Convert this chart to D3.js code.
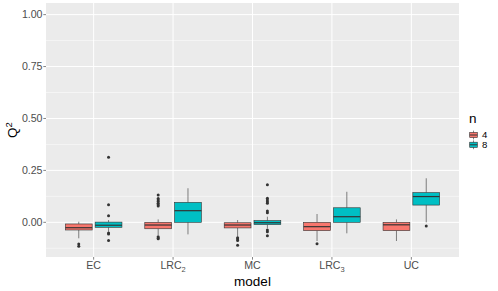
<!DOCTYPE html>
<html>
<head>
<meta charset="utf-8">
<script src="https://cdn.jsdelivr.net/npm/d3@7"></script>
<style>
body { margin: 0; background: #fff; }
text { font-family: "Liberation Sans", Arial, sans-serif; }
</style>
</head>
<body>
<div id="viz"></div>
<script>
var width = 498
var height = 291

var models = ["EC", "LRC", "MC", "LRC", "UC"];
var modelSubs = ["", "2", "", "3", ""];
var groups = ["4", "8"];
var colors = ["#F8766D", "#00BFC4"];
var yTicks = [0, 0.25, 0.5, 0.75, 1];
var yMinor = [-0.125, 0.125, 0.375, 0.625, 0.875];

// box statistics per group, one entry per model
var q1_4 = [-0.037, -0.031, -0.027, -0.040, -0.040];
var med4 = [-0.026, -0.013, -0.013, -0.021, -0.012];
var q3_4 = [-0.008, 0.000, -0.002, 0.000, 0.000];
var lo4 = [-0.077, -0.061, -0.069, -0.090, -0.090];
var hi4 = [0.003, 0.014, 0.011, 0.040, 0.014];
var out4 = [[-0.104, -0.115], [0.131, 0.115, 0.108, 0.100, 0.092, 0.085, 0.078, -0.069, -0.075, -0.079],
  [-0.074, -0.080, -0.088, -0.111], [-0.103], []];

var q1_8 = [-0.024, 0.000, -0.011, 0.000, 0.083];
var med8 = [-0.014, 0.056, -0.002, 0.027, 0.124];
var q3_8 = [0.001, 0.096, 0.008, 0.070, 0.143];
var lo8 = [-0.045, -0.058, -0.029, -0.053, 0.000];
var hi8 = [0.011, 0.164, 0.027, 0.147, 0.212];
var out8 = [[0.313, 0.085, 0.032, -0.051, -0.056, -0.088], [],
  [0.181, 0.116, 0.107, 0.099, 0.092, 0.054, 0.046, -0.037, -0.045, -0.065], [], [-0.018]];

var stats = [
  {q1: q1_4, med: med4, q3: q3_4, lo: lo4, hi: hi4, out: out4},
  {q1: q1_8, med: med8, q3: q3_8, lo: lo8, hi: hi8, out: out8}
];

var pLeft = 46, pRight = 459, pTop = 3, pBottom = 257;

var svg = d3.select("#viz").append("svg")
	.attr("width", width)
	.attr("height", height);

// discrete scale with ggplot's 0.6 expansion on each side
var x = d3.scalePoint()
	.domain(d3.range(models.length))
	.range([pLeft, pRight])
	.padding(0.6);
var unit = x.step();

var y = d3.scaleLinear()
	.domain([-0.167, 1.056])
	.range([pBottom, pTop]);

svg.append("rect")
	.attr("x", pLeft).attr("y", pTop)
	.attr("width", pRight - pLeft).attr("height", pBottom - pTop)
	.attr("fill", "#EBEBEB");

svg.selectAll(".minor").data(yMinor).enter().append("line")
	.attr("x1", pLeft).attr("x2", pRight)
	.attr("y1", function(d){ return y(d); }).attr("y2", function(d){ return y(d); })
	.attr("stroke", "#fff").attr("stroke-width", 0.5);

svg.selectAll(".major").data(yTicks).enter().append("line")
	.attr("x1", pLeft).attr("x2", pRight)
	.attr("y1", function(d){ return y(d); }).attr("y2", function(d){ return y(d); })
	.attr("stroke", "#fff").attr("stroke-width", 1);

svg.selectAll(".vmajor").data(models).enter().append("line")
	.attr("x1", function(d, i){ return x(i); }).attr("x2", function(d, i){ return x(i); })
	.attr("y1", pTop).attr("y2", pBottom)
	.attr("stroke", "#fff").attr("stroke-width", 1);

// boxes
var boxW = unit * 0.375 * 0.9;
stats.forEach(function(s, g){
	var off = (g === 0 ? -1 : 1) * unit * 0.1875;
	models.forEach(function(m, i){
		var c = x(i) + off;
		var grp = svg.append("g");
		grp.append("line")
			.attr("x1", c).attr("x2", c)
			.attr("y1", y(s.hi[i])).attr("y2", y(s.q3[i]))
			.attr("stroke", "#333").attr("stroke-width", 0.6);
		grp.append("line")
			.attr("x1", c).attr("x2", c)
			.attr("y1", y(s.q1[i])).attr("y2", y(s.lo[i]))
			.attr("stroke", "#333").attr("stroke-width", 0.6);
		grp.append("rect")
			.attr("x", c - boxW / 2).attr("width", boxW)
			.attr("y", y(s.q3[i])).attr("height", y(s.q1[i]) - y(s.q3[i]))
			.attr("fill", colors[g]).attr("stroke", "#333").attr("stroke-width", 0.6);
		grp.append("line")
			.attr("x1", c - boxW / 2).attr("x2", c + boxW / 2)
			.attr("y1", y(s.med[i])).attr("y2", y(s.med[i]))
			.attr("stroke", "#333").attr("stroke-width", 1.2);
		grp.selectAll("circle").data(s.out[i]).enter().append("circle")
			.attr("cx", c).attr("cy", function(d){ return y(d); })
			.attr("r", 1.5).attr("fill", "#333");
	});
});

// y axis
svg.selectAll(".ytick").data(yTicks).enter().append("line")
	.attr("x1", pLeft - 2.7).attr("x2", pLeft)
	.attr("y1", function(d){ return y(d); }).attr("y2", function(d){ return y(d); })
	.attr("stroke", "#333").attr("stroke-width", 0.6);
svg.selectAll(".ylab").data(yTicks).enter().append("text")
	.attr("x", pLeft - 3.5).attr("y", function(d){ return y(d); })
	.attr("dy", "0.36em").attr("text-anchor", "end")
	.attr("font-size", 10.6).attr("fill", "#4D4D4D")
	.text(function(d){ return d3.format(".2f")(d); });

// x axis
svg.selectAll(".xtick").data(models).enter().append("line")
	.attr("x1", function(d, i){ return x(i); }).attr("x2", function(d, i){ return x(i); })
	.attr("y1", pBottom).attr("y2", pBottom + 2.7)
	.attr("stroke", "#333").attr("stroke-width", 0.6);
var xl = svg.selectAll(".xlab").data(models).enter().append("text")
	.attr("x", function(d, i){ return x(i); }).attr("y", 269)
	.attr("text-anchor", "middle")
	.attr("font-size", 10.6).attr("fill", "#4D4D4D");
xl.append("tspan").text(function(d){ return d; });
xl.append("tspan")
	.attr("font-size", 7.5).attr("dy", 2.5)
	.text(function(d, i){ return modelSubs[i]; });

svg.append("text")
	.attr("x", (pLeft + pRight) / 2).attr("y", 286)
	.attr("text-anchor", "middle").attr("font-size", 13.5).attr("fill", "#000")
	.text("model");

var yt = svg.append("text")
	.attr("transform", "translate(17," + ((pTop + pBottom) / 2) + ") rotate(-90)")
	.attr("text-anchor", "middle").attr("font-size", 13.5).attr("fill", "#000");
yt.append("tspan").text("Q");
yt.append("tspan").attr("font-size", 9.5).attr("dy", -5).text("2");

// legend
svg.append("text")
	.attr("x", 469).attr("y", 123)
	.attr("font-size", 13.5).attr("fill", "#000")
	.text("n");
groups.forEach(function(gname, g){
	var ky = 135 + g * 9.8;
	var kx = 473.5;
	svg.append("line")
		.attr("x1", kx).attr("x2", kx).attr("y1", ky - 4.4).attr("y2", ky + 4.4)
		.attr("stroke", "#333").attr("stroke-width", 0.6);
	svg.append("rect")
		.attr("x", kx - 3.8).attr("y", ky - 2.6).attr("width", 7.6).attr("height", 5.2)
		.attr("fill", colors[g]).attr("stroke", "#333").attr("stroke-width", 0.6);
	svg.append("line")
		.attr("x1", kx - 3.8).attr("x2", kx + 3.8).attr("y1", ky).attr("y2", ky)
		.attr("stroke", "#333").attr("stroke-width", 1);
	svg.append("text")
		.attr("x", 482).attr("y", ky).attr("dy", "0.36em")
		.attr("font-size", 9.6).attr("fill", "#000")
		.text(gname);
});
</script>
</body>
</html>
